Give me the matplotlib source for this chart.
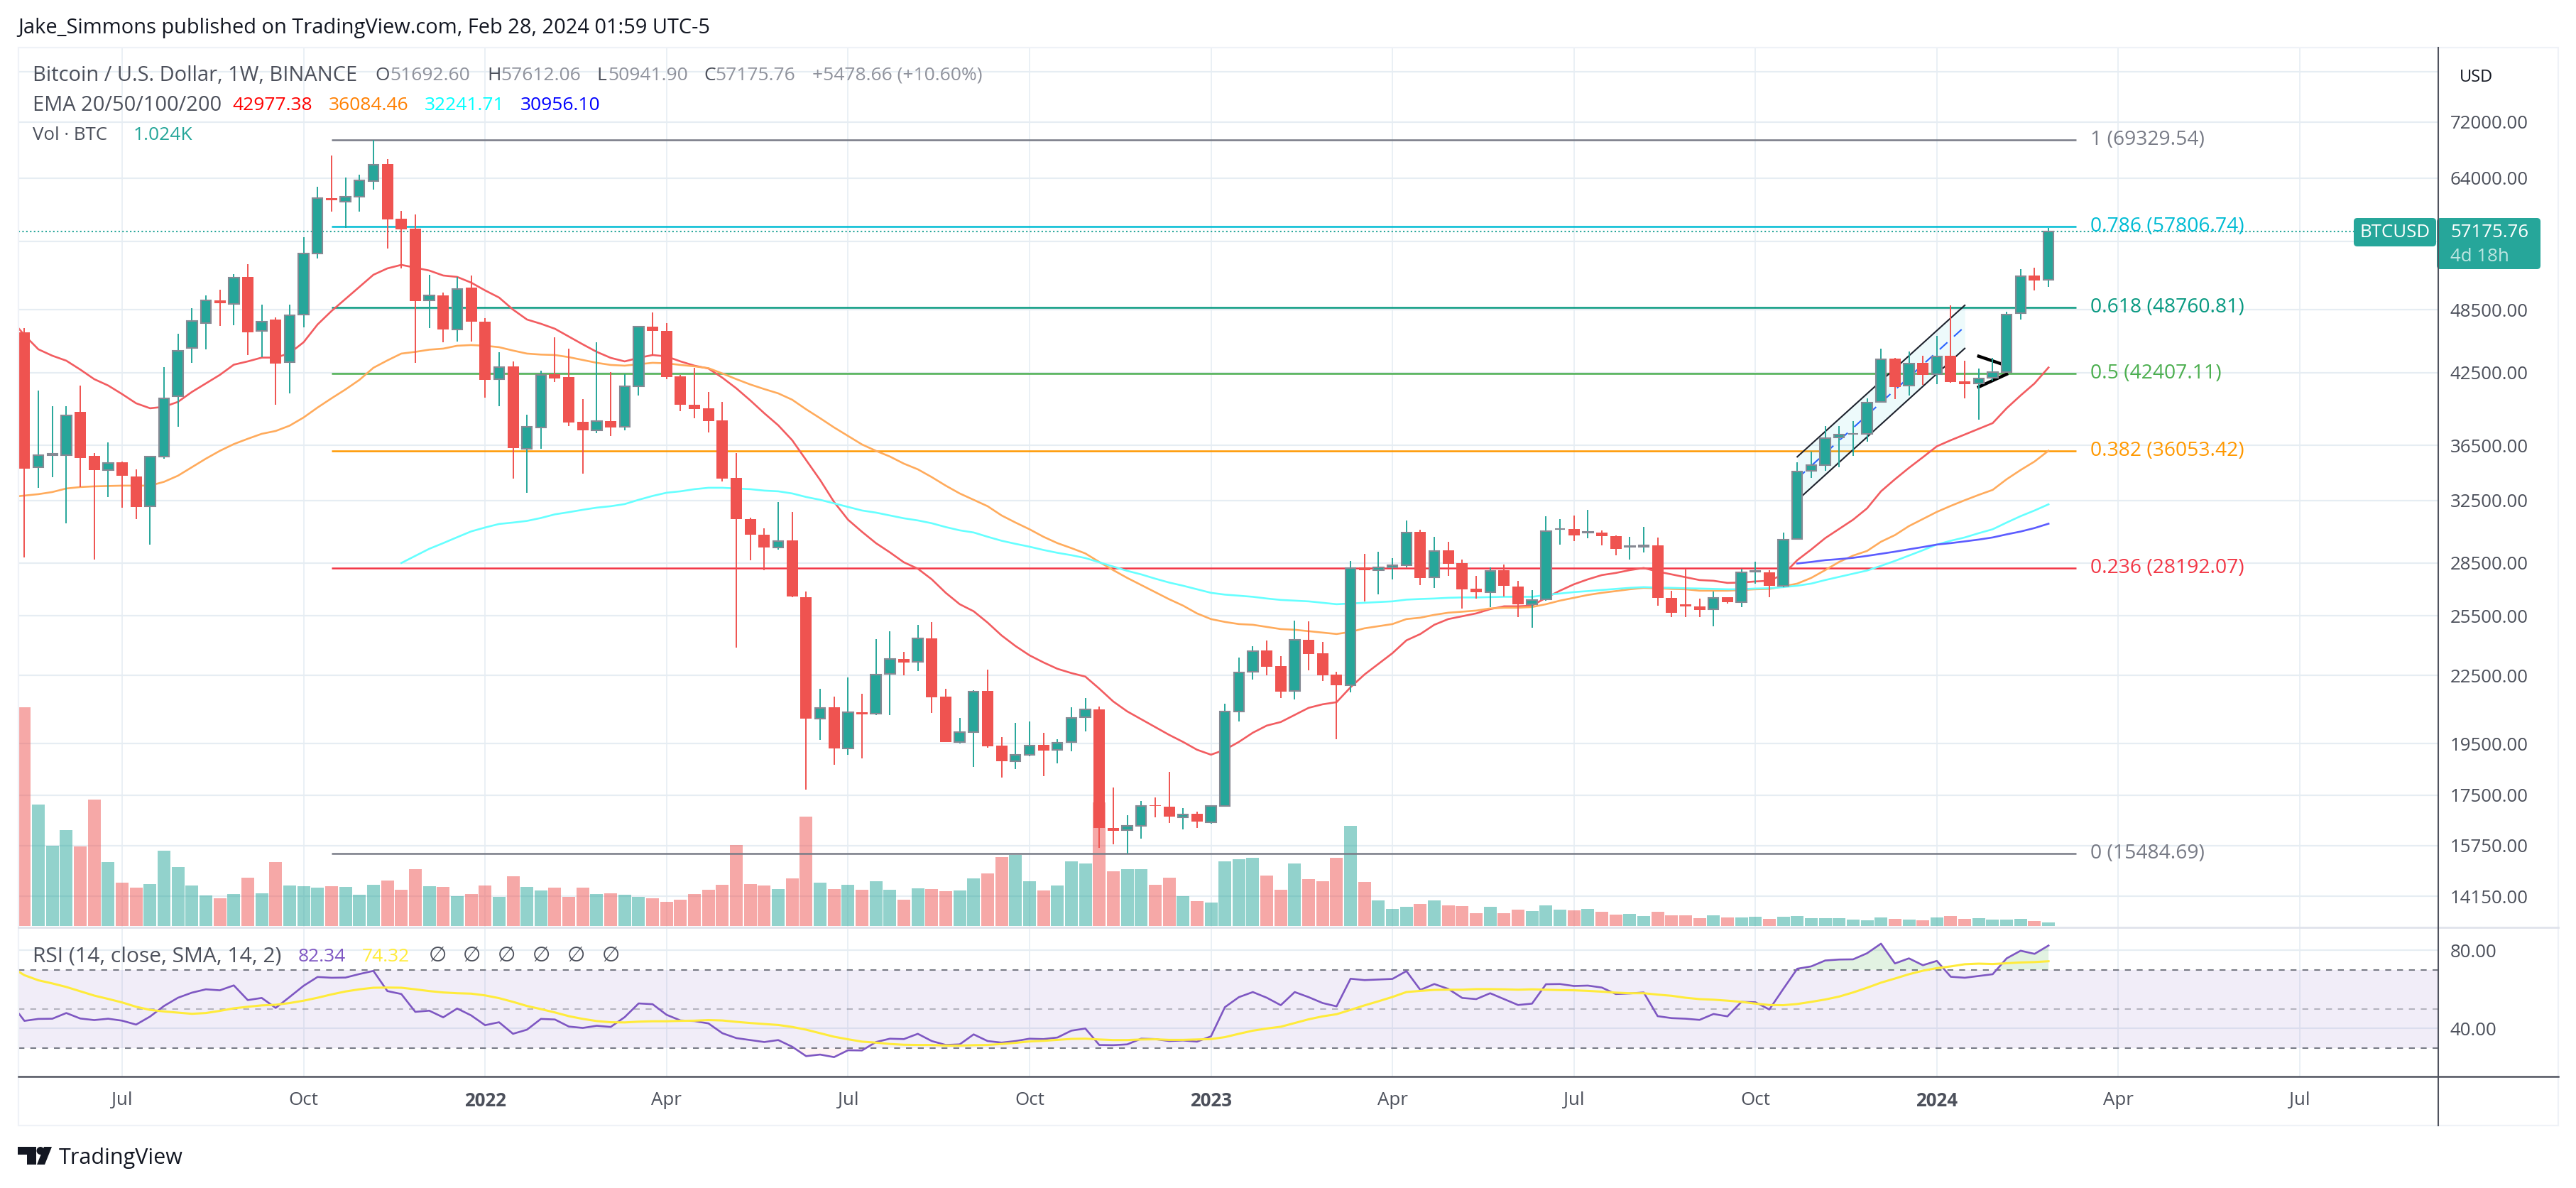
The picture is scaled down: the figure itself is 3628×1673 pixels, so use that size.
import numpy as np
import matplotlib
matplotlib.use("Agg")
import matplotlib.pyplot as plt
from matplotlib.patches import FancyBboxPatch, Polygon, Circle, Rectangle
from matplotlib.ticker import NullLocator

plt.rcParams['font.family'] = ['Open Sans', 'DejaVu Sans']

# ---- weekly candles ----
opens = [46270,34858,35753,35753,39157,35700,34650,35223,34189,32114,
         35646,40463,44781,47179,49485,49118,51981,46410,47533,43465,
         48032,54600,61337,60880,61522,63572,65890,58740,57528,49485,
         49990,46550,50832,47285,41937,43080,36236,37865,42377,42125,
         38347,37670,38405,37922,41316,46829,46410,42188,39746,39420,
         38462,34060,31264,30230,29453,29895,26534,20562,21058,19296,
         20840,20778,22587,23305,23167,24335,21535,19555,19987,21793,
         19429,18783,19056,19458,19256,19555,20623,20964,16343,16270,
         16417,17142,17090,16713,16838,16540,17116,20870,22690,23727,
         22960,21793,24263,23585,22553,22065,28223,28055,28248,28358,
         30412,27665,29255,28503,26990,26814,28055,27135,26140,26392,
         30590,30590,30372,30372,30145,29475,29475,29585,26480,26140,
         26005,25870,26515,26265,27980,27962,27175,29985,34615,35030,
         37110,37372,37405,39984,43790,41400,43400,42395,44052,41750,
         41564,42062,42567,48175,52113,51692]
highs = [46690,40949,39630,39630,41380,35913,36725,35276,34702,35700,
         43015,46136,48683,49990,50604,52290,53397,49045,47745,49045,
         56505,62820,67079,64048,64430,69300,66580,59713,59270,52214,
         50266,51981,52136,47640,44380,43530,38924,42694,45793,44714,
         40223,45318,42567,42345,46899,48247,47179,42314,42950,40827,
         39984,35913,31357,30663,32402,31733,26854,21891,21535,22418,
         21664,24299,24700,23655,25035,25185,21891,20592,21826,22790,
         19780,20380,20440,19957,19692,21058,21470,21090,17792,16788,
         17296,17425,18386,17040,16914,17142,21215,23375,23940,24228,
         23445,25260,25220,24155,22690,28630,29060,29190,28800,31170,
         30573,30118,29806,28716,27748,28223,28417,27460,26933,31460,
         31264,31495,31876,30528,30185,30127,30755,30075,26893,28165,
         26455,26855,26534,28165,28587,28055,30372,35223,36022,38007,
         38007,38405,40283,44714,43855,44450,44052,45930,48972,43595,
         42885,43855,48318,52840,52998,57612]
lows = [28845,33380,34138,30982,33430,28716,32742,32018,31264,29629,
        35487,37951,43400,44648,46899,46969,44118,43921,39746,40705,
        46760,54035,59625,57614,59625,62444,55176,52920,43400,46690,
        45318,45386,45386,40343,39630,34036,33037,36236,41688,38007,
        34393,37444,37221,37690,40523,44052,41937,39215,38635,37500,
        33808,23870,28673,28060,29300,26534,17713,19663,18646,19056,
        18922,20725,20725,22530,22700,20788,19555,19500,18560,19350,
        18170,18480,18980,18222,18700,19180,20017,15675,15792,15485,
        15981,16697,16515,16278,16343,16490,17100,20420,22330,22530,
        21480,21385,22757,22262,19700,21725,26297,26672,27520,28223,
        27195,27065,27760,25920,26430,25985,26550,25460,24885,26335,
        29630,29830,30008,29585,28985,28716,29120,26075,25460,25460,
        25425,24970,26180,25985,27296,26534,27100,29940,34090,34600,
        34858,35700,36780,39900,40240,40540,41460,41520,41645,40300,
        38540,41812,42500,47553,50552,50941]
closes = [34754,35753,35860,38867,35540,34650,35171,34240,32066,35646,
          40283,44515,47391,49485,49190,51904,46270,47320,43336,47960,
          54600,61337,61064,61522,63666,65840,58654,57442,49411,49990,
          46550,50680,47285,41875,43015,36290,37922,42314,42000,38290,
          37670,38405,37865,41316,46829,46410,42125,39746,39392,38405,
          34010,31264,30230,29453,29851,26573,20562,21028,19296,20822,
          20755,22563,23316,23143,24335,21512,19555,19987,21770,19409,
          18783,19056,19429,19235,19545,20600,20964,16326,16230,16417,
          17116,17100,16720,16813,16548,17116,20850,22665,23700,22935,
          21770,24275,23560,22530,22065,28206,28055,28248,28375,30390,
          27625,29233,28470,26973,26814,28017,27160,26140,26375,30490,
          30630,30225,30408,30145,29375,29515,29585,26480,25663,26005,
          25830,26495,26235,27956,28038,27175,29950,34548,35030,37072,
          37350,37405,39940,43724,41275,43355,42335,44005,41707,41520,
          42020,42567,48055,52058,51620,57175.76]
# volume in thousands of BTC
volume = [63.1,35.0,23.2,27.7,23.0,36.5,18.4,12.5,11.1,12.1,
          21.7,17.0,11.7,8.8,8.0,9.2,13.9,9.4,18.4,11.7,
          11.5,11.1,11.5,11.3,9.0,11.9,13.1,10.5,16.4,11.5,
          11.3,8.6,9.2,11.7,8.4,14.3,11.3,10.2,11.1,8.4,
          11.1,9.2,9.4,9.0,8.4,8.0,7.0,7.6,9.2,10.5,
          11.9,23.4,12.1,11.7,10.7,13.7,31.6,12.5,10.7,11.9,
          10.5,12.9,10.5,7.6,10.9,10.7,10.0,10.2,13.7,15.2,
          19.9,20.5,12.9,10.2,11.7,18.7,18.0,35.7,15.8,16.4,
          16.4,11.9,13.9,8.6,7.2,6.8,18.7,19.3,19.7,14.6,
          10.5,18.0,13.5,12.9,19.7,28.9,12.7,7.4,4.9,5.5,
          6.4,7.4,5.9,5.7,3.7,5.5,3.7,4.7,4.3,5.9,
          4.7,4.5,4.9,4.1,3.3,3.5,2.9,4.1,3.1,3.1,
          2.3,3.1,2.5,2.5,2.7,2.0,2.7,2.9,2.3,2.3,
          2.3,1.8,1.6,2.5,2.0,1.8,1.6,2.5,2.9,2.0,
          2.3,1.8,1.8,2.0,1.4,1.024]

# ---- moving averages (first value sits one week left of the first candle) ----
ema20 = [47600,46000,44648,44052,43595,42790,41937,41380,40640,39865,39450,
         39570,39984,40827,41564,42314,43230,43530,43880,43880,44285,
         45318,47040,48390,49633,50905,52214,52920,53315,53000,52684,
         52136,51981,51365,50530,49780,48535,47533,47110,46620,45865,
         45115,44410,43855,43530,43855,44118,43987,43530,43142,42886,
         42062,41135,40105,39040,38064,36890,35380,33935,32402,31217,
         30435,29718,29147,28546,28164,27542,26773,26140,25755,25148,
         24480,23940,23480,23132,22824,22620,22453,21891,21310,20871,
         20532,20198,19868,19575,19256,19056,19256,19575,19957,20258,
         20410,20716,21028,21184,21279,21956,22553,23064,23585,24228,
         24554,25035,25336,25487,25640,25870,26025,26025,26063,26495,
         26893,27256,27542,27789,27914,28080,28206,27997,27830,27665,
         27500,27460,27337,27358,27420,27460,27830,28673,29322,30030,
         30618,31217,31970,33135,33985,34806,35593,36420,36890,37333,
         37780,38237,39450,40523,41564,42977.38]
ema50 = [32742,32840,32937,33085,33333,33432,33482,33507,33532,33532,33532,
         33803,34240,34858,35487,36075,36590,37000,37388,37612,38035,
         38693,39510,40283,41040,41875,42950,43620,44250,44410,44615,
         44714,44985,45050,44985,44850,44533,44250,44158,44118,43921,
         43660,43400,43207,43142,43272,43400,43355,43207,43080,42918,
         42440,41937,41470,41072,40705,40163,39363,38635,37893,37223,
         36562,36075,35646,35118,34702,34138,33532,32987,32549,32114,
         31497,31030,30596,30118,29718,29410,29082,28566,28080,27625,
         27215,26814,26417,26063,25640,25336,25185,25072,25035,24924,
         24810,24774,24700,24627,24554,24664,24850,24960,25072,25336,
         25411,25563,25678,25732,25793,25909,25947,25947,25986,26140,
         26337,26495,26653,26773,26870,26973,27054,27030,26993,26973,
         26893,26893,26893,26933,26973,26993,27135,27296,27625,28080,
         28566,28950,29233,29806,30225,30800,31264,31733,32138,32520,
         32888,33234,33985,34650,35276,36084.46]
ema100_start = 27
ema100 = [28503,28932,29366,29718,30090,30458,30710,30938,31030,31138,
          31330,31570,31715,31875,32018,32114,32258,32549,32815,33037,
          33135,33284,33382,33382,33333,33284,33185,33135,32987,32742,
          32549,32306,32066,31827,31685,31497,31310,31170,30985,30738,
          30528,30390,30118,29868,29674,29497,29295,29120,28975,28802,
          28546,28290,28038,27830,27583,27358,27175,26973,26773,26672,
          26613,26550,26455,26376,26337,26297,26219,26140,26180,26219,
          26258,26297,26392,26428,26455,26495,26515,26515,26534,26550,
          26550,26550,26653,26733,26814,26870,26933,26993,27054,27094,
          27066,27054,27030,27014,26993,26973,26973,27014,27030,27094,
          27175,27296,27500,27685,27870,28055,28333,28630,28950,29278,
          29629,29868,30075,30345,30596,31030,31450,31827,32241.71]
ema200_start = 127
ema200 = [28475,28566,28673,28737,28815,28932,29060,29190,29335,29475,
          29629,29718,29828,29940,30075,30270,30450,30675,30956.10]

# ---- RSI pane (same leading point as the EMAs) ----
rsi = [53.2,43.9,44.9,45.0,47.9,45.1,44.3,45.0,44.0,42.0,46.1,
       51.5,55.7,58.3,60.0,59.5,62.0,54.5,55.6,50.5,56.1,
       61.8,66.3,65.9,66.0,67.8,69.4,59.1,57.6,48.5,49.1,
       45.7,50.2,46.7,41.7,43.2,37.3,39.4,44.9,44.6,41.0,
       40.3,41.4,40.8,45.8,52.8,52.4,47.0,44.1,43.8,42.6,
       37.6,35.1,34.1,33.1,34.1,30.7,25.9,26.7,25.4,28.9,
       28.8,33.1,34.8,34.6,37.3,33.6,31.6,31.9,37.0,33.6,
       32.8,33.6,34.8,34.6,35.4,38.9,40.0,31.6,31.5,31.9,
       34.8,34.6,33.6,33.9,33.3,36.0,50.9,56.0,58.6,55.7,
       51.9,58.6,56.0,53.0,51.3,65.4,64.7,65.0,65.3,69.3,
       59.7,62.7,60.2,55.6,55.0,58.0,55.0,52.0,52.7,62.6,
       62.7,61.7,61.9,60.9,57.6,57.9,58.4,46.3,45.3,45.0,
       44.4,47.4,46.2,53.6,53.4,49.7,60.2,70.5,71.7,74.7,
       75.2,75.3,78.4,83.3,73.2,75.8,72.3,74.5,66.4,65.9,
       66.8,67.7,75.8,79.7,78.1,82.34]
rsi_sma = [71.6,67.2,64.6,63.0,61.2,59.0,56.8,55.1,53.3,51.1,49.5,
           48.7,48.1,47.5,47.9,49.0,50.3,51.1,51.8,52.1,53.0,
           54.2,55.7,57.4,58.9,60.0,60.8,60.9,60.8,60.0,59.1,
           58.4,58.0,57.8,56.9,55.5,53.6,51.5,49.9,48.2,46.3,
           44.9,43.8,43.2,43.1,43.5,43.7,43.7,43.9,44.0,44.3,
           44.1,43.4,42.8,42.3,41.8,40.8,39.4,37.6,35.8,34.5,
           33.3,32.8,32.1,31.7,31.6,31.6,31.3,31.3,31.5,31.6,
           32.1,32.7,33.4,33.7,34.2,34.7,34.8,34.4,34.1,34.1,
           34.4,34.5,34.2,34.2,34.4,34.6,35.6,37.3,38.9,40.0,
           40.9,42.8,44.7,46.2,47.3,49.5,51.8,53.9,56.1,58.6,
           59.2,59.7,59.8,59.8,60.1,60.1,60.0,59.8,60.0,59.8,
           59.6,59.5,59.2,58.8,58.3,58.0,58.0,57.3,56.7,55.7,
           55.0,54.7,54.2,53.6,52.7,52.0,51.9,52.5,53.6,54.8,
           56.3,58.4,60.8,63.4,65.5,67.7,69.5,70.8,71.7,72.8,
           73.1,72.9,73.3,73.7,73.9,74.32]

# ---- fibonacci levels, drawings, axis labels ----
fib_names = ['1', '0.786', '0.618', '0.5', '0.382', '0.236', '0']
fib_levels = [69329.54, 57806.74, 48760.81, 42407.11, 36053.42, 28192.07, 15484.69]
fib_colors = ['#787b86', '#00bcd4', '#089981', '#4caf50', '#ff9800', '#f23645', '#787b86']
fib_start, fib_end, fib_label = 22, 147, 148

channel_x = [127, 139]
channel_up = [35625, 48972]
channel_mid = [34036, 46829]
channel_low = [32515, 44734]
flag_x = [140, 142]
flag_up = [44005, 43142]
flag_low = [41255, 42377]

price_ticks = [14150, 15750, 17500, 19500, 22500, 25500, 28500, 32500, 36500,
               42500, 48500, 56000, 64000, 72000, 80000]
hidden_ticks = [56000, 80000]
month_pos = [7, 20, 33, 46, 59, 72, 85, 98, 111, 124, 137, 150, 163]
month_names = ['Jul', 'Oct', '2022', 'Apr', 'Jul', 'Oct', '2023', 'Apr', 'Jul', 'Oct', '2024', 'Apr', 'Jul']

GREEN, RED = '#26a69a', '#ef5350'
GRID = '#e6edf3'
TXT = '#4c505b'
FS = 18.6     # axis numbers
FS_TXT = 20.9 # header and legend words
FS_VAL = 19.0 # legend numbers
FS_FIB = 20.3

W, H = 3628, 1673
L_PX, R_PX = 26, 3434
MAIN_TOP, MAIN_BOT, RSI_BOT = 67, 1306, 1516
X0, STEP = 34.4, 19.66  # pixel of candle 0, pixels per week

fig = plt.figure(figsize=(W / 100, H / 100), dpi=100)

def pane(top, bot, **kw):
    return fig.add_axes([L_PX / W, 1 - bot / H, (R_PX - L_PX) / W, (bot - top) / H], **kw)

x_lim = ((L_PX - X0) / STEP, (R_PX - X0) / STEP)
idx = np.arange(len(closes))
o, h, l, c = map(np.array, (opens, highs, lows, closes))
up = c >= o

# three stacked axes: grid, then volume, then price
ax_bg = pane(MAIN_TOP, MAIN_BOT)
ax_vol = pane(MAIN_TOP, MAIN_BOT, sharex=ax_bg)
ax = pane(MAIN_TOP, MAIN_BOT, sharex=ax_bg)
ax_rsi = pane(MAIN_BOT, RSI_BOT, sharex=ax_bg)
for a in (ax_vol, ax):
    a.patch.set_visible(False)
    a.tick_params(left=False, bottom=False, labelleft=False, labelbottom=False)
    a.set_yticks([])
for a in (ax_bg, ax_vol, ax, ax_rsi):
    for s in a.spines.values():
        s.set_visible(False)

price_lim = (13259, 84148)
for a in (ax_bg, ax):
    a.set_yscale('log')
    a.set_ylim(*price_lim)
    a.yaxis.set_minor_locator(NullLocator())
ax.set_yticks([])
ax.tick_params(which='both', left=False, labelleft=False)
ax_bg.set_xlim(*x_lim)

ax_bg.yaxis.tick_right()
ax_bg.set_yticks(price_ticks)
ax_bg.set_yticklabels(['' if p in hidden_ticks else f'{p:.2f}' for p in price_ticks],
                      fontsize=FS, color=TXT)
ax_bg.tick_params(axis='y', length=0, pad=12)
ax_bg.tick_params(axis='x', length=0, labelbottom=False)
ax_bg.set_xticks(month_pos)
ax_bg.grid(True, color=GRID, lw=1.6)
ax_bg.grid(True, axis='x', color=GRID, lw=1.2)
ax_bg.set_axisbelow(True)

# volume
vol_color = [GREEN if u else RED for u in up]
ax_vol.bar(idx, volume, width=18 / STEP, color=vol_color, alpha=0.5, linewidth=0)
ax_vol.set_ylim(-0.41, 253.6)

# fibonacci
for name, lev, col in zip(fib_names, fib_levels, fib_colors):
    ax.plot([fib_start, fib_end], [lev, lev], color=col, lw=1.8, zorder=1, solid_capstyle='butt')
    ax.text(fib_label, lev, f'{name} ({lev:.2f})', color=col, fontsize=FS_FIB, va='center', ha='left')

# channel and flag
ax.fill_between(channel_x, channel_low, channel_up, color='#00bcd4', alpha=0.07, linewidth=0, zorder=1)
ax.plot(channel_x, channel_up, color='#1e222d', lw=1.5, zorder=1.5)
ax.plot(channel_x, channel_low, color='#1e222d', lw=1.5, zorder=1.5)
ax.plot(channel_x, channel_mid, color='#2962ff', lw=1.5, ls=(0, (7, 6)), zorder=1.5)
ax.plot(flag_x, flag_up, color='black', lw=3.2, zorder=1.5)
ax.plot(flag_x, flag_low, color='black', lw=3.2, zorder=1.5)

ax.axhline(closes[-1], color=GREEN, lw=1.5, ls=(0, (1, 1.6)), zorder=1.5)

# emas
ax.plot(np.arange(-1, 146), ema20, color='#f25c60', lw=1.9, zorder=2)
ax.plot(np.arange(-1, 146), ema50, color='#ffab5c', lw=1.9, zorder=2)
ax.plot(ema100_start + np.arange(len(ema100)), ema100, color='#66ffff', lw=1.9, zorder=2)
ax.plot(ema200_start + np.arange(len(ema200)), ema200, color='#5c5cff', lw=1.9, zorder=2)

# candles
ax.vlines(idx[up], l[up], h[up], color=GREEN, lw=1.4, zorder=3)
ax.vlines(idx[~up], l[~up], h[~up], color=RED, lw=1.4, zorder=3)
body_low = np.minimum(o, c)
body_high = np.maximum(o, c)
ax.bar(idx[up], (body_high - body_low)[up], bottom=body_low[up], width=14.4 / STEP,
       color=GREEN, edgecolor='#868993', linewidth=1.5, zorder=4)
ax.bar(idx[~up], (body_high - body_low)[~up], bottom=body_low[~up], width=16 / STEP,
       color=RED, linewidth=0, zorder=4)
ax.set_ylim(*price_lim)
ax_bg.set_xlim(*x_lim)

# rsi pane
ax_rsi.set_ylim(15.5, 91.6)
ax_rsi.yaxis.tick_right()
ax_rsi.set_yticks([40, 80])
ax_rsi.set_yticklabels(['40.00', '80.00'], fontsize=FS, color=TXT)
ax_rsi.tick_params(axis='y', length=0, pad=12)
ax_rsi.set_xticks(month_pos)
ax_rsi.set_xticklabels(month_names, fontsize=FS, color=TXT)
ax_rsi.tick_params(axis='x', length=0, pad=15)
for t, name in zip(ax_rsi.get_xticklabels(), month_names):
    if name.isdigit():
        t.set_fontweight('bold')
ax_rsi.grid(True, color=GRID, lw=1.6)
ax_rsi.grid(True, axis='x', color=GRID, lw=1.2)
ax_rsi.set_axisbelow(True)
ax_rsi.axhspan(30, 70, color='#7e57c2', alpha=0.1, linewidth=0, zorder=1)
for lev, al in ((70, 1), (50, 0.5), (30, 1)):
    ax_rsi.axhline(lev, color='#787b86', lw=1.5, ls=(0, (4, 4)), alpha=al, zorder=1.5)
x_rsi = np.arange(-1, 146)
rsi_arr = np.array(rsi)
ax_rsi.fill_between(x_rsi, 70, rsi_arr, where=rsi_arr > 70, interpolate=True, color='#4caf50', alpha=0.16, linewidth=0, zorder=1.6)
ax_rsi.fill_between(x_rsi, 30, rsi_arr, where=rsi_arr < 30, interpolate=True, color='#f23645', alpha=0.06, linewidth=0, zorder=1.6)
ax_rsi.plot(x_rsi, rsi, color='#7e57c2', lw=1.9, zorder=3)
ax_rsi.plot(x_rsi, rsi_sma, color='#ffeb3b', lw=2.2, zorder=3)

# ---- everything around the panes, in image pixels ----
px = fig.add_axes([0, 0, 1, 1], zorder=10)
px.set_xlim(0, W)
px.set_ylim(H, 0)
px.axis('off')

FRAME = '#eff2f7'
px.add_patch(Rectangle((26, 67), 3577, 1518, fill=False, edgecolor=FRAME, lw=1.6))
px.plot([26, 3603], [MAIN_BOT, MAIN_BOT], color='#e0e3eb', lw=2.0)
px.plot([26, 3603], [RSI_BOT, RSI_BOT], color='#50535e', lw=1.8)
px.plot([R_PX, R_PX], [67, 1585], color='#50535e', lw=1.5)

def label(x, y, s, color=TXT, size=FS, **kw):
    px.text(x, y, s, color=color, fontsize=size, va='center', ha=kw.pop('ha', 'left'), **kw)

label(25, 39, 'Jake_Simmons published on TradingView.com, Feb 28, 2024 01:59 UTC-5', color='#131722', size=FS_TXT)

GREY = '#8f929c'
label(46, 106, 'Bitcoin / U.S. Dollar, 1W, BINANCE', size=FS_TXT)
for x, letter in ((528, 'O'), (686, 'H'), (840, 'L'), (991, 'C')):
    label(x, 106, letter, size=FS_VAL)
for x, s in ((549, '51692.60'), (705, '57612.06'), (856, '50941.90'), (1007, '57175.76'),
             (1144, '+5478.66 (+10.60%)')):
    label(x, 106, s, color=GREY, size=FS_VAL)

label(46, 148, 'EMA 20/50/100/200', size=FS_TXT)
for x, s, col in ((327, '42977.38', '#ff0000'), (463, '36084.46', '#ff7f00'),
                  (598, '32241.71', '#00ffff'), (733, '30956.10', '#0000ff')):
    label(x, 148, s, color=col, size=FS_VAL)

label(46, 190, 'Vol · BTC')
label(188, 190, '1.024K', color=GREEN, size=FS_VAL)

label(46, 1347, 'RSI (14, close, SMA, 14, 2)', size=21.6)
label(420, 1347, '82.34', color='#7e57c2', size=FS_VAL)
label(510, 1347, '74.32', color='#ffeb3b', size=FS_VAL)
for x in (604, 652, 701, 750, 799, 848):
    label(x, 1347, '∅', size=21)

label(3487, 109, 'USD', color='#131722', ha='center', size=17)

# price tags
px.add_patch(FancyBboxPatch((3318, 310), 110, 34, boxstyle='round,pad=3,rounding_size=5',
                            facecolor=GREEN, edgecolor='none'))
px.add_patch(FancyBboxPatch((3435, 310), 140, 66, boxstyle='round,pad=3,rounding_size=5',
                            facecolor=GREEN, edgecolor='none'))
label(3373, 327, 'BTCUSD', color='white', ha='center')
label(3451, 327, '57175.76', color='white')
label(3451, 361, '4d 18h', color='#bfe6e2')

# logo
px.add_patch(Polygon([(25, 1615), (51, 1615), (51, 1640), (38, 1640), (38, 1626), (25, 1626)],
                     facecolor='#131722', edgecolor='none'))
px.add_patch(Circle((57, 1620.5), 5.5, facecolor='#131722', edgecolor='none'))
px.add_patch(Polygon([(62, 1615), (73, 1615), (63, 1640), (52, 1640)], facecolor='#131722', edgecolor='none'))
label(83, 1631, 'TradingView', color='#131722', size=22, fontweight='medium')

fig.savefig('out.png', dpi=100)
